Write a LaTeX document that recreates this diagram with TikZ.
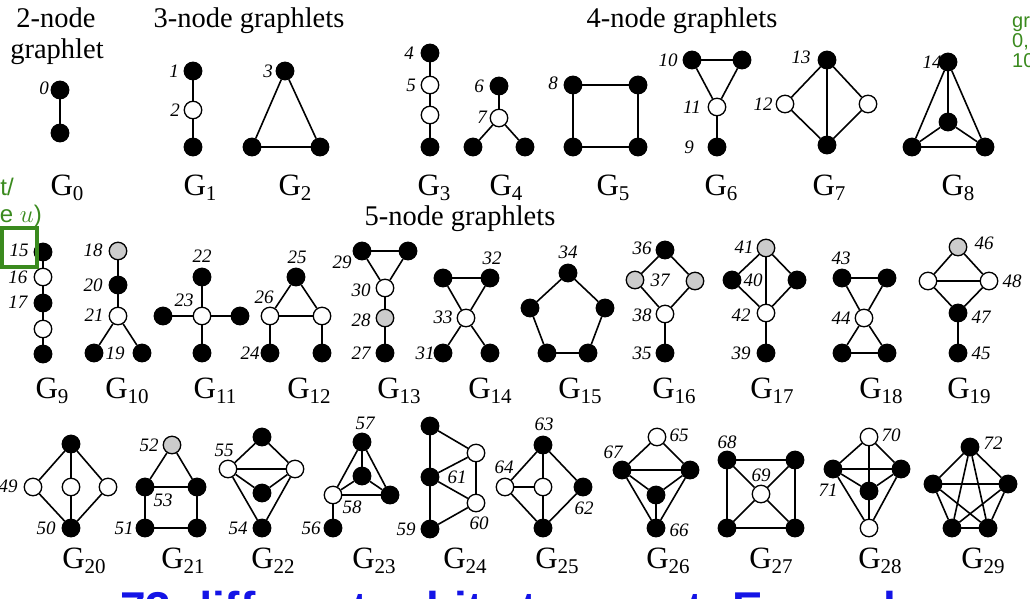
\documentclass[tikz,border=0pt]{standalone}
\usepackage{fontspec}
\setmainfont{Liberation Serif}
\newfontfamily\capfont{Liberation Sans}
\definecolor{orbitgreen}{HTML}{3A8A1E}
\definecolor{capblue}{HTML}{1414E6}
\newcommand{\gsub}[1]{G\raisebox{-5pt}{\fontsize{21}{21}\selectfont #1}}
\tikzset{
  vtx/.style={circle, draw=black, line width=1.3pt, minimum size=17.5pt, inner sep=0pt},
  bv/.style={vtx, fill=black},
  wv/.style={vtx, fill=white},
  gv/.style={vtx, fill=black!20},
  edge/.style={line width=1.6pt},
  orb/.style={font=\fontsize{19}{19}\selectfont\itshape, inner sep=0pt},
  gname/.style={font=\fontsize{31}{31}\selectfont, anchor=base, inner sep=0pt},
  head/.style={font=\fontsize{28.5}{31}\selectfont, anchor=base, inner sep=0pt},
  side/.style={font=\capfont\fontsize{24}{24}\selectfont, text=orbitgreen, inner sep=0pt}
}
\begin{document}
\begin{tikzpicture}[x=1pt, y=-1pt]
  \useasboundingbox (0,0) rectangle (1030,598);
  \clip (0,0) rectangle (1030,598);
  % headings
  \node[head] (h2a) at (56,27) {2-node};
  \node[head] (h2b) at (57,58) {graphlet};
  \node[head] (h3) at (249,27) {3-node graphlets};
  \node[head] (h4) at (682,27) {4-node graphlets};
  \node[head] (h5) at (460,225) {5-node graphlets};
  % vertices
  \foreach \n/\s/\x/\y in {g0a/bv/60/90, g0b/bv/60/133,
      g1a/bv/193/71, g1b/wv/193/110, g1c/bv/193/147,
      g2a/bv/285/71, g2b/bv/252/147, g2c/bv/320/147,
      g3a/bv/430/53, g3b/wv/430/85, g3c/wv/430/115, g3d/bv/430/147,
      g4a/bv/499/86, g4b/wv/499/118, g4c/bv/473/147, g4d/bv/525/147,
      g5a/bv/573/85, g5b/bv/638/85, g5c/bv/573/147, g5d/bv/638/147,
      g6a/bv/692/60, g6b/bv/742/60, g6c/wv/717/107, g6d/bv/717/147,
      g7a/bv/827/60, g7b/wv/785/104, g7c/wv/868/104, g7d/bv/827/145,
      g8a/bv/948/62, g8b/bv/948/122, g8c/bv/912/147, g8d/bv/985/147} {
    \node[\s] (\n) at (\x,\y) {};
  }
  \foreach \n/\s/\x/\y in {g9a/bv/43/252, g9b/wv/43/277, g9c/bv/43/303, g9d/wv/43/329, g9e/bv/43/354,
      g10a/gv/118/251, g10b/bv/118/285, g10c/wv/118/316, g10d/bv/94/353, g10e/bv/142/353,
      g11a/bv/202/277, g11b/bv/163/316, g11c/wv/202/316, g11d/bv/240/316, g11e/bv/202/353,
      g12a/bv/296/277, g12b/wv/270/316, g12c/wv/322/316, g12d/bv/270/353, g12e/bv/322/353,
      g13a/bv/362/251, g13b/bv/408/251, g13c/wv/385/288, g13d/gv/385/318, g13e/bv/385/353,
      g14a/bv/443/278, g14b/bv/490/278, g14c/wv/466/318, g14d/bv/443/353, g14e/bv/490/353,
      g15a/bv/568/273, g15b/bv/530/308, g15c/bv/605/308, g15d/bv/547/353, g15e/bv/588/353,
      g16a/bv/665/250, g16b/gv/635/280, g16c/gv/695/281, g16d/wv/665/314, g16e/bv/665/353,
      g17a/gv/766/248, g17b/bv/732/280, g17c/bv/797/280, g17d/wv/766/313, g17e/bv/766/353,
      g18a/bv/842/278, g18b/bv/887/278, g18c/wv/864/318, g18d/bv/842/353, g18e/bv/887/353,
      g19a/gv/958/247, g19b/wv/928/281, g19c/wv/989/281, g19d/bv/958/313, g19e/bv/958/353} {
    \node[\s] (\n) at (\x,\y) {};
  }
  \foreach \n/\s/\x/\y in {g20a/bv/71/444, g20b/wv/33/487, g20c/wv/71/487, g20d/wv/108/487, g20e/bv/71/528,
      g21a/gv/172/445, g21b/bv/145/487, g21c/bv/197/487, g21d/bv/145/528, g21e/bv/197/528,
      g22a/bv/262/437, g22b/wv/228/469, g22c/wv/295/469, g22d/bv/262/493, g22e/bv/262/528,
      g23a/bv/362/442, g23b/bv/362/476, g23c/wv/333/495, g23d/bv/390/495, g23e/bv/333/528,
      g24a/bv/430/426, g24b/bv/430/477, g24c/bv/430/529, g24d/wv/476/453, g24e/wv/476/503,
      g25a/bv/543/445, g25b/wv/505/487, g25c/wv/543/487, g25d/bv/583/487, g25e/bv/543/528,
      g26a/wv/657/437, g26b/bv/622/470, g26c/bv/690/470, g26d/bv/656/495, g26e/bv/656/528,
      g27a/bv/727/460, g27b/bv/795/460, g27c/wv/761/494, g27d/bv/727/528, g27e/bv/795/528,
      g28a/wv/869/437, g28b/bv/833/469, g28c/bv/901/469, g28d/bv/869/491, g28e/wv/869/528,
      g29a/bv/970/447, g29b/bv/933/484, g29c/bv/1008/484, g29d/bv/952/528, g29e/bv/988/528} {
    \node[\s] (\n) at (\x,\y) {};
  }
  % edges
  \foreach \a/\b in {g0a/g0b, g1a/g1b, g1b/g1c, g2a/g2b, g2a/g2c, g2b/g2c,
      g3a/g3b, g3b/g3c, g3c/g3d, g4a/g4b, g4b/g4c, g4b/g4d,
      g5a/g5b, g5b/g5d, g5d/g5c, g5c/g5a, g6a/g6b, g6a/g6c, g6b/g6c, g6c/g6d,
      g7a/g7b, g7a/g7c, g7a/g7d, g7b/g7d, g7c/g7d,
      g8a/g8b, g8a/g8c, g8a/g8d, g8b/g8c, g8b/g8d, g8c/g8d,
      g9a/g9b, g9b/g9c, g9c/g9d, g9d/g9e,
      g10a/g10b, g10b/g10c, g10c/g10d, g10c/g10e,
      g11c/g11a, g11c/g11b, g11c/g11d, g11c/g11e,
      g12a/g12b, g12a/g12c, g12b/g12c, g12b/g12d, g12c/g12e,
      g13a/g13b, g13a/g13c, g13b/g13c, g13c/g13d, g13d/g13e,
      g14a/g14b, g14a/g14c, g14b/g14c, g14c/g14d, g14c/g14e,
      g15a/g15b, g15a/g15c, g15b/g15d, g15c/g15e, g15d/g15e,
      g16a/g16b, g16a/g16c, g16b/g16d, g16c/g16d, g16d/g16e,
      g17a/g17b, g17a/g17c, g17a/g17d, g17b/g17d, g17c/g17d, g17d/g17e,
      g18a/g18b, g18a/g18c, g18b/g18c, g18c/g18d, g18c/g18e, g18d/g18e,
      g19a/g19b, g19a/g19c, g19b/g19c, g19b/g19d, g19c/g19d, g19d/g19e,
      g20a/g20b, g20a/g20c, g20a/g20d, g20b/g20e, g20c/g20e, g20d/g20e,
      g21a/g21b, g21a/g21c, g21b/g21c, g21b/g21d, g21c/g21e, g21d/g21e,
      g22a/g22b, g22a/g22c, g22b/g22c, g22b/g22d, g22c/g22d, g22b/g22e, g22c/g22e,
      g23a/g23b, g23a/g23c, g23a/g23d, g23b/g23c, g23b/g23d, g23c/g23d, g23c/g23e,
      g24a/g24b, g24b/g24c, g24a/g24d, g24b/g24d, g24b/g24e, g24c/g24e, g24d/g24e,
      g25a/g25b, g25a/g25c, g25a/g25d, g25b/g25c, g25b/g25e, g25c/g25e, g25d/g25e,
      g26a/g26b, g26a/g26c, g26b/g26c, g26b/g26d, g26c/g26d, g26b/g26e, g26c/g26e, g26d/g26e,
      g27a/g27b, g27b/g27e, g27e/g27d, g27d/g27a, g27a/g27c, g27b/g27c, g27d/g27c, g27e/g27c,
      g28a/g28b, g28a/g28c, g28a/g28d, g28b/g28c, g28b/g28d, g28c/g28d, g28b/g28e, g28c/g28e, g28d/g28e,
      g29a/g29b, g29a/g29c, g29a/g29d, g29a/g29e, g29b/g29c, g29b/g29d, g29b/g29e, g29c/g29d, g29c/g29e, g29d/g29e} {
    \draw[edge] (\a) -- (\b);
  }
  % orbit numbers
  \foreach \o/\x/\y in {0/44/88, 1/174/71, 2/175/110, 3/268/71, 4/409/53, 5/411/85, 6/479/86, 7/482/117,
      8/553/83, 9/689/147, 10/668/60, 11/692/107, 12/763/104, 13/801/57, 14/932/62,
      15/19/250, 16/18/277, 17/18/302, 18/93/250, 19/115/353, 20/93/285, 21/94/315,
      22/202/256, 23/184/300, 24/250/353, 25/297/257, 26/264/297, 27/361/353, 28/361/320,
      29/342/262, 30/361/290, 31/425/353, 32/492/258, 33/443/317, 34/568/252, 35/642/353,
      36/642/248, 37/660/280, 38/642/315, 39/741/353, 40/753/280, 41/744/247, 42/741/315,
      43/841/258, 44/841/318, 45/981/353, 46/984/243, 47/981/317, 48/1012/281,
      49/8/486, 50/46/528, 51/124/528, 52/149/445, 53/163/500, 54/238/528, 55/224/450,
      56/311/528, 57/365/423, 58/352/507, 59/406/529, 60/479/523, 61/457/477, 62/584/508,
      63/544/424, 64/504/467, 65/679/435, 66/679/530, 67/613/452, 68/727/442, 69/761/475,
      70/891/435, 71/828/490, 72/993/443} {
    \node[orb] (o\o) at (\x,\y) {\o};
  }
  % graphlet names
  \foreach \g/\x/\y in {0/67/195, 1/200/195, 2/295/195, 3/434/195, 4/506/195, 5/613/195,
      6/721/195, 7/829/195, 8/958/195,
      9/52/398, 10/127/398, 11/215/398, 12/309/398, 13/399/398, 14/490/398, 15/580/398,
      16/674/398, 17/772/398, 18/881/398, 19/969/398,
      20/84/568, 21/183/568, 22/273/568, 23/374/568, 24/465/568, 25/557/568, 26/668/568,
      27/771/568, 28/880/568, 29/983/568} {
    \node[gname] (G\g) at (\x,\y) {\gsub{\g}};
  }
  % side notes
  \draw[orbitgreen, line width=4.5pt] (2,228) rectangle (37,267);
  \node[side, anchor=base east] (root) at (14,195) {root/};
  \node[side, anchor=base east] (nodeu) at (42,222) {(node $u$)};
  \node[side, anchor=base west, font=\capfont\fontsize{20}{20}\selectfont] (gr1) at (1012,27) {graphlets};
  \node[side, anchor=base west, font=\capfont\fontsize{20}{20}\selectfont] (gr2) at (1012,47) {0, 1, 2};
  \node[side, anchor=base west, font=\capfont\fontsize{20}{20}\selectfont] (gr3) at (1012,67) {10, 11};
  \node[anchor=base west, inner sep=0pt, text=capblue, font=\capfont\bfseries\fontsize{46}{46}\selectfont] (caption) at (120,624) {73 different orbits to count. Example};
\end{tikzpicture}
\end{document}
